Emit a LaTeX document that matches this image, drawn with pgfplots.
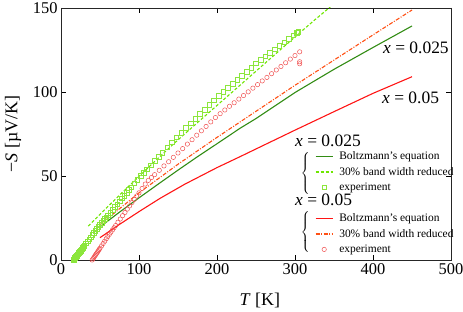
\documentclass[border=0pt]{standalone}
\usepackage{fontspec}
\setmainfont{Liberation Serif}
\usepackage{pgfplots}
\pgfplotsset{compat=1.18}
\definecolor{cDkGreen}{RGB}{50,140,20}
\definecolor{cLime}{RGB}{110,230,0}
\definecolor{cSq}{RGB}{140,230,60}
\definecolor{cRed}{RGB}{255,20,20}
\definecolor{cOrange}{RGB}{255,80,20}
\definecolor{cCirc}{RGB}{240,80,80}
\newcommand{\lstrut}{\rule[-2.5bp]{0pt}{10.5bp}}
\pgfplotsset{
  lineimg/.style={legend image code/.code={\draw[##1] (0bp,0bp) -- (17bp,0bp);}},
  limeimg/.style={legend image code/.code={\draw[color=cLime, line width=1.2pt]
     (0bp,0bp) -- (3bp,0bp) (5bp,0bp) -- (8bp,0bp) (10bp,0bp) -- (13bp,0bp) (15bp,0bp) -- (17bp,0bp);}},
  orangeimg/.style={legend image code/.code={\draw[color=cOrange, line width=1.2pt]
     (0bp,0bp) -- (4bp,0bp) (5.5bp,0bp) -- (6.5bp,0bp) (8bp,0bp) -- (12bp,0bp) (13.5bp,0bp) -- (14.5bp,0bp) (16bp,0bp) -- (17bp,0bp);}},
}
\begin{document}
\begin{tikzpicture}
\begin{axis}[name=ax,
  scale only axis, width=390bp, height=252bp,
  xmin=0, xmax=500, ymin=0, ymax=150,
  xtick={0,100,200,300,400,500}, ytick={0,50,100,150},
  tick align=inside, major tick length=5bp,
  tick style={black, line width=0.6pt},
  axis line style={line width=0.8pt, black!85},
  /pgf/number format/assume math mode=true,
  every tick label/.append style={font=\fontsize{16.5}{18}\selectfont},
  xlabel={\textit{T} [K]}, ylabel={−\textit{S} [µV/K]},
  label style={font=\fontsize{18}{20}\selectfont},
  xlabel style={at={(axis description cs:0.51,-0.159)}, anchor=center},
  ylabel style={at={(axis description cs:-0.123,0.5)}, anchor=center},
  legend style={at={(axis description cs:0.651,0.4306)}, anchor=north west,
    draw=none, fill=none, inner sep=0pt, row sep=6bp, column sep=6bp,
    font=\fontsize{11.5}{13}\selectfont,
    nodes={inner sep=0pt}},
  legend cell align=left,
]
% x = 0.025 Boltzmann
\addplot[color=cDkGreen, line width=1.1pt, forget plot] coordinates {
(50,19.8)(60,23.2)(75,28.5)(100,37)(125,45.3)(150,53.5)(175,61.5)(200,69.2)(229.5,78.4)(250,84.2)(300,99.7)(350,113.5)(400,126.5)(450,139.3)};
% x = 0.025 30% reduced
\addplot[color=cLime, line width=1.1pt, dash pattern=on 3bp off 2bp, forget plot] coordinates {
(35,20.2)(50,27.2)(75,38.6)(100,49.8)(125,60.8)(150,71.5)(175,81.8)(200,92)(225,102.2)(250,112.4)(275,122.6)(300,132.8)(325,142.8)(350,152.5)};
% x = 0.05 Boltzmann
\addplot[color=cRed, line width=1.1pt, forget plot] coordinates {
(50,13.3)(75,21.2)(100,28.8)(127,36.7)(159,45.2)(200,55)(229.5,61.5)(250,66.1)(300,77.3)(350,88.3)(400,99.2)(450,109.1)};
% x = 0.05 30% reduced
\addplot[color=cOrange, line width=1.1pt, dash pattern=on 4bp off 1.5bp on 1bp off 1.5bp, forget plot] coordinates {
(50,21)(75,30.5)(100,40)(125,48.5)(150,57)(175,65)(200,73)(250,88.5)(300,104)(350,119)(400,134)(450,148.8)};
% x = 0.025 experiment
\addplot[only marks, mark=square, mark size=2.3bp, mark options={color=cSq, line width=0.5pt}, forget plot] coordinates {
(16,0)(17,0.6)(18,1.2)(19,1.9)(20,2.5)(21,3.1)(22,3.7)(23,4.3)(24,5.0)(25,5.6)(26,6.2)(27,6.8)(28,7.4)(29,8.1)(30,8.7)(32,9.9)(34,11.2)(36,12.4)(38,13.6)(40,14.9)(42,16.1)(44,17.4)(46,18.6)(48,19.8)(50,21.1)
(52,22.1)(54,23.2)(56,24.4)(58,25.5)(60,26.6)(63,28.3)(66,30.0)(69,31.6)(72,33.3)(75,35.0)(78,36.7)(81,38.4)(84,40.0)(87,41.7)(90,43.4)(94,45.6)(98,47.9)
(102,50.0)(106,52.0)(110,54.0)(115,56.5)(120,59.0)(125,61.5)(130,64.0)(136,67.0)(142,70.0)(148,73.0)
(154,75.8)(160,78.6)(166,81.4)(172,84.1)(178,86.9)(184,89.6)(190,92.4)(196,95.2)
(202,97.8)(208,100.2)(214,102.6)(220,105.0)(226,107.4)(232,109.8)(238,112.2)(244,114.6)(250,117.0)
(256,119.1)(262,121.2)(268,123.3)(274,125.4)(280,127.5)(286,129.6)(292,131.7)(298,133.8)(302,135.2)(303,135.5)(304,135.8)};
% x = 0.05 experiment
\addplot[only marks, mark=o, mark size=2.2bp, mark options={color=cCirc, line width=0.5pt}, forget plot] coordinates {
(40,0)(41,0.7)(42,1.4)(43,2.1)(44,2.8)(45,3.5)(46,4.2)(47,4.9)(48,5.6)(49,6.3)(50,7.0)(52,8.4)(54,9.8)(56,11.2)(58,12.6)(60,14.0)
(62,15.3)(64,16.6)(66,17.9)(68,19.2)(70,20.5)(73,22.5)(76,24.4)(79,26.4)(82,28.3)(85,30.3)(88,32.2)
(91,34.2)(94,36.1)(97,38.1)(100,40.0)(104,42.6)(108,45.2)
(112,47.4)(116,49.1)(120,50.8)(126,53.4)(132,56.0)(138,58.5)(144,61.1)(150,63.7)
(156,66.3)(162,69.0)(168,71.6)(174,74.3)(180,76.9)(186,79.5)(192,82.2)(198,84.8)
(204,87.1)(210,89.3)(216,91.5)(222,93.6)(228,95.8)(234,97.9)(240,100.1)(246,102.3)
(252,104.4)(258,106.6)(264,108.7)(270,110.9)(276,113.1)(282,115.2)(288,117.4)(294,119.6)(300,121.7)(306,123.9)(306,118)(306,116.8)};
% legend
\addlegendimage{lineimg, color=cDkGreen, line width=1.1pt}
\addlegendentry{\lstrut Boltzmann's equation}
\addlegendimage{limeimg}
\addlegendentry{\lstrut 30\% band width reduced}
\addlegendimage{only marks, mark=square, mark size=2.3bp, mark options={color=cSq, line width=0.5pt}}
\addlegendentry{\lstrut experiment}
\addlegendimage{empty legend}
\addlegendentry{\lstrut}
\addlegendimage{lineimg, color=cRed, line width=1.1pt}
\addlegendentry{\lstrut Boltzmann's equation}
\addlegendimage{orangeimg}
\addlegendentry{\lstrut 30\% band width reduced}
\addlegendimage{only marks, mark=o, mark size=2.2bp, mark options={color=cCirc, line width=0.5pt}}
\addlegendentry{\lstrut experiment}
% headers, braces and labels
\node[anchor=west, inner sep=0pt, font=\fontsize{17.5}{19}\selectfont] at (axis cs:300,70.8) {\textit{x} = 0.025};
\node[anchor=west, inner sep=0pt, font=\fontsize{17.5}{19}\selectfont] at (axis cs:300,35.7) {\textit{x} = 0.05};
\node[inner sep=0pt] at (axis cs:314,51.5) {$\left\{\vrule height 19bp depth 19bp width 0pt\right.$};
\node[inner sep=0pt] at (axis cs:314,16.5) {$\left\{\vrule height 19bp depth 19bp width 0pt\right.$};
\node[anchor=west, inner sep=0pt, font=\fontsize{17.5}{19}\selectfont] at (axis cs:412.8,126.2) {\textit{x} = 0.025};
\node[anchor=west, inner sep=0pt, font=\fontsize{17.5}{19}\selectfont] at (axis cs:411.5,96.4) {\textit{x} = 0.05};
\end{axis}
\pgfresetboundingbox
\path ([xshift=-61bp,yshift=-51bp]ax.south west) rectangle ([xshift=12bp,yshift=8bp]ax.north east);
\end{tikzpicture}
\end{document}
